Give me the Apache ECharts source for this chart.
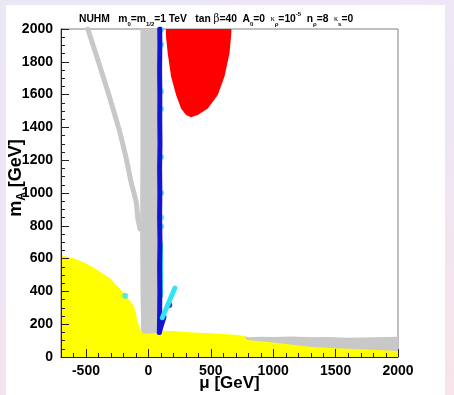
<!DOCTYPE html>
<html><head><meta charset="utf-8">
<script src="https://cdn.jsdelivr.net/npm/echarts@6/dist/echarts.min.js"></script>
<style>
html,body{margin:0;padding:0;width:454px;height:395px;overflow:hidden;background:linear-gradient(165deg,#ebe7f7 0%,#efe6f4 50%,#f8e4ea 100%);}
#panel{position:absolute;left:6px;top:5px;width:439px;height:390px;background:#fff;}
#chart{position:absolute;left:0;top:0;width:454px;height:395px;}
</style></head><body><div id="panel"></div><div id="chart"></div>
<script>
// axis ticks
const xMajorTicks = [-500, 0, 500, 1000, 1500, 2000];
const xMinorTicks = [-600,-400,-300,-200,-100,100,200,300,400,600,700,800,900,1100,1200,1300,1400,1600,1700,1800,1900];
const yTickLabels = [0, 200, 400, 600, 800, 1000, 1200, 1400, 1600, 1800, 2000];

// regions [mu, mA]
const yellowRegion = [[-700,0],[-700,620],[-600,602],[-500,572],[-400,528],[-300,475],[-200,392],[-150,345],[-120,315],[-100,270],[-88,215],[-60,160],[-40,150],[0,150],[100,160],[200,158],[300,153],[400,148],[500,145],[600,140],[700,135],[770,128],[790,104],[811,102],[1000,88],[1292,63],[1500,54],[1750,45],[2000,37],[2000,0]];
const grayRightBand = [[765,0],[765,126],[811,120],[900,124],[1000,122],[1150,125],[1300,120],[1450,122],[1600,118],[1800,121],[2000,124],[2000,0]];
const grayVerticalBand = [[-64,2000],[74,2000],[76,1000],[76,146],[-40,142],[-58,162],[-63,400],[-66,800],[-64,1200]];
const grayDiagonal = [[-485,2000],[-460,1940],[-400,1800],[-313,1590],[-233,1384],[-180,1220],[-137,1061],[-110,985],[-96,939],[-84,840],[-66,780]];
const redRegion = [[140,2000],[142,1950],[155,1852],[182,1710],[222,1598],[262,1516],[302,1476],[342,1462],[396,1476],[476,1516],[556,1598],[610,1710],[650,1852],[662,1950],[666,2000]];
const blueLine = [[88,150],[90,250],[92,400],[90,550],[93,700],[90,850],[92,1000],[90,1150],[93,1300],[91,1450],[92,1600],[90,1750],[92,1900],[91,2000]];
const blueBranch = [[88,150],[105,195],[125,244]];
const blueDots = [[168,317]];
const cyanDots = [[101,1995],[101,1905],[101,1620],[101,1512],[101,1220],[102,1000],[102,850],[102,795],[-185,374]];
const cyanSegment = [[102,370],[102,690]];
const cyanDiagonal = [[112,240],[212,420]];

const FF = 'Liberation Sans, Arial, sans-serif';
const axisColor = '#222';

function polySeries(name, verts, color) {
  return {
    type: 'custom', name: name, data: verts, encode: {x: 0, y: 1}, clip: true, silent: true,
    renderItem: function (params, api) {
      if (params.dataIndex !== 0) return null;
      const pts = verts.map(function (v) { return api.coord(v); });
      return {type: 'polygon', shape: {points: pts}, style: {fill: color}};
    }
  };
}
function lineSeries(name, pts, color, width) {
  return {type: 'line', name: name, data: pts, showSymbol: false, silent: true, clip: true,
    lineStyle: {color: color, width: width, cap: 'round', join: 'round'}};
}
function tickSeries(name, values, len) {
  return {type: 'custom', name: name, data: values.map(function (v) { return [v, 0]; }), encode: {x: 0, y: 1},
    silent: true, clip: false, z: 20,
    renderItem: function (params, api) {
      const p = api.coord([api.value(0), 0]);
      const x = Math.round(p[0]) + 0.5;
      return {type: 'line', z2: 100, shape: {x1: x, y1: p[1], x2: x, y2: p[1] - len},
        style: {stroke: axisColor, lineWidth: 1}};
    }};
}

const plain = function (v) { return String(v); };
const rb = {fontSize: 10.3, fontWeight: 'bold', fontFamily: FF, color: '#000', lineHeight: 16};
const chart = echarts.init(document.getElementById('chart'), null, {renderer: 'canvas'});
chart.setOption({
  backgroundColor: 'transparent',
  animation: false,
  title: {
    left: 74, top: 6,
    text: '{b|NUHM}{w|   }{b|m}{s|0}{b|=m}{s|1/2}{b|=1 TeV}{w|   }{b|tan }{g|β}{b|=40}{w|  }{b|A}{s|0}{b|=0}{w|  }{k|κ}{s|ρ}{b|=10}{p|-5}{w|  }{b|n}{s|ρ}{b|=8}{w|  }{k|κ}{s|s}{b|=0}',
    textStyle: {
      fontSize: 10.3, fontWeight: 'bold', fontFamily: FF, color: '#000',
      rich: {
        b: rb,
        w: {fontSize: 10, fontFamily: FF, lineHeight: 16},
        s: {fontSize: 6, fontWeight: 'bold', fontFamily: FF, color: '#000', verticalAlign: 'bottom', lineHeight: 16},
        p: {fontSize: 6, fontWeight: 'bold', fontFamily: FF, color: '#000', verticalAlign: 'top', lineHeight: 16},
        g: {fontSize: 10.3, fontWeight: 'normal', fontFamily: 'DejaVu Serif, serif', color: '#000', lineHeight: 16},
        k: {fontSize: 8, fontWeight: 'normal', fontFamily: 'Liberation Serif, serif', color: '#000', lineHeight: 16}
      }
    }
  },
  grid: {left: 61, right: 56, top: 29, bottom: 38, show: true, borderColor: '#808080', borderWidth: 1,
    backgroundColor: 'transparent', outerBoundsMode: 'none'},
  xAxis: [{
    type: 'value', min: -700, max: 2000, position: 'bottom', z: 10,
    axisLine: {show: true, onZero: false, lineStyle: {color: axisColor}},
    axisTick: {show: true, inside: true, length: 8, customValues: xMajorTicks, lineStyle: {color: axisColor, width: 1}},
    axisLabel: {customValues: xMajorTicks, formatter: plain, margin: 7, color: '#000', fontSize: 14, fontWeight: 'bold', fontFamily: FF},
    splitLine: {show: false},
    name: 'μ [GeV]', nameLocation: 'middle', nameGap: 18, nameMoveOverlap: false,
    nameTextStyle: {color: '#000', fontSize: 17, fontWeight: 'bold', fontFamily: FF}
  }],
  yAxis: {
    type: 'value', min: 0, max: 2000, interval: 200, z: 10,
    axisLine: {show: true, onZero: false, lineStyle: {color: axisColor}},
    axisTick: {show: true, inside: true, length: 8, lineStyle: {color: axisColor, width: 1}},
    minorTick: {show: true, splitNumber: 4, length: 4, lineStyle: {color: axisColor, width: 1}},
    axisLabel: {margin: 8, color: '#000', fontSize: 14, fontWeight: 'bold', fontFamily: FF,
      formatter: function (v) { return yTickLabels.indexOf(v) >= 0 ? String(v) : ''; }},
    splitLine: {show: false}
  },
  graphic: [{
    type: 'text', x: 16, y: 178, rotation: Math.PI / 2,
    style: {
      text: '{m|m}{a|A}{m| [GeV]}', align: 'center', verticalAlign: 'middle',
      rich: {
        m: {fontSize: 18, fontWeight: 'bold', fontFamily: FF, color: '#000', lineHeight: 24},
        a: {fontSize: 12, fontWeight: 'bold', fontFamily: FF, color: '#000', verticalAlign: 'bottom', lineHeight: 24}
      }
    }
  }],
  series: [
    polySeries('grayRight', grayRightBand, '#c8c8c8'),
    polySeries('yellow', yellowRegion, '#ffff00'),
    polySeries('grayBand', grayVerticalBand, '#c8c8c8'),
    lineSeries('grayDiag', grayDiagonal, '#c8c8c8', 5),
    polySeries('red', redRegion, '#ff0000'),
    lineSeries('cyanSeg', cyanSegment, '#30e4f2', 4),
    {type: 'scatter', data: cyanDots, symbolSize: 6, silent: true, itemStyle: {color: '#30e4f2'}},
    lineSeries('blue', blueLine, '#1414d2', 5),
    lineSeries('blueBranch', blueBranch, '#1414d2', 5),
    lineSeries('cyanDiag', cyanDiagonal, '#30e4f2', 5),
    {type: 'scatter', data: blueDots, symbolSize: 6, silent: true, itemStyle: {color: '#1414d2'}},
    tickSeries('xMinorTicks', xMinorTicks, 4)
  ]
});
</script></body></html>
